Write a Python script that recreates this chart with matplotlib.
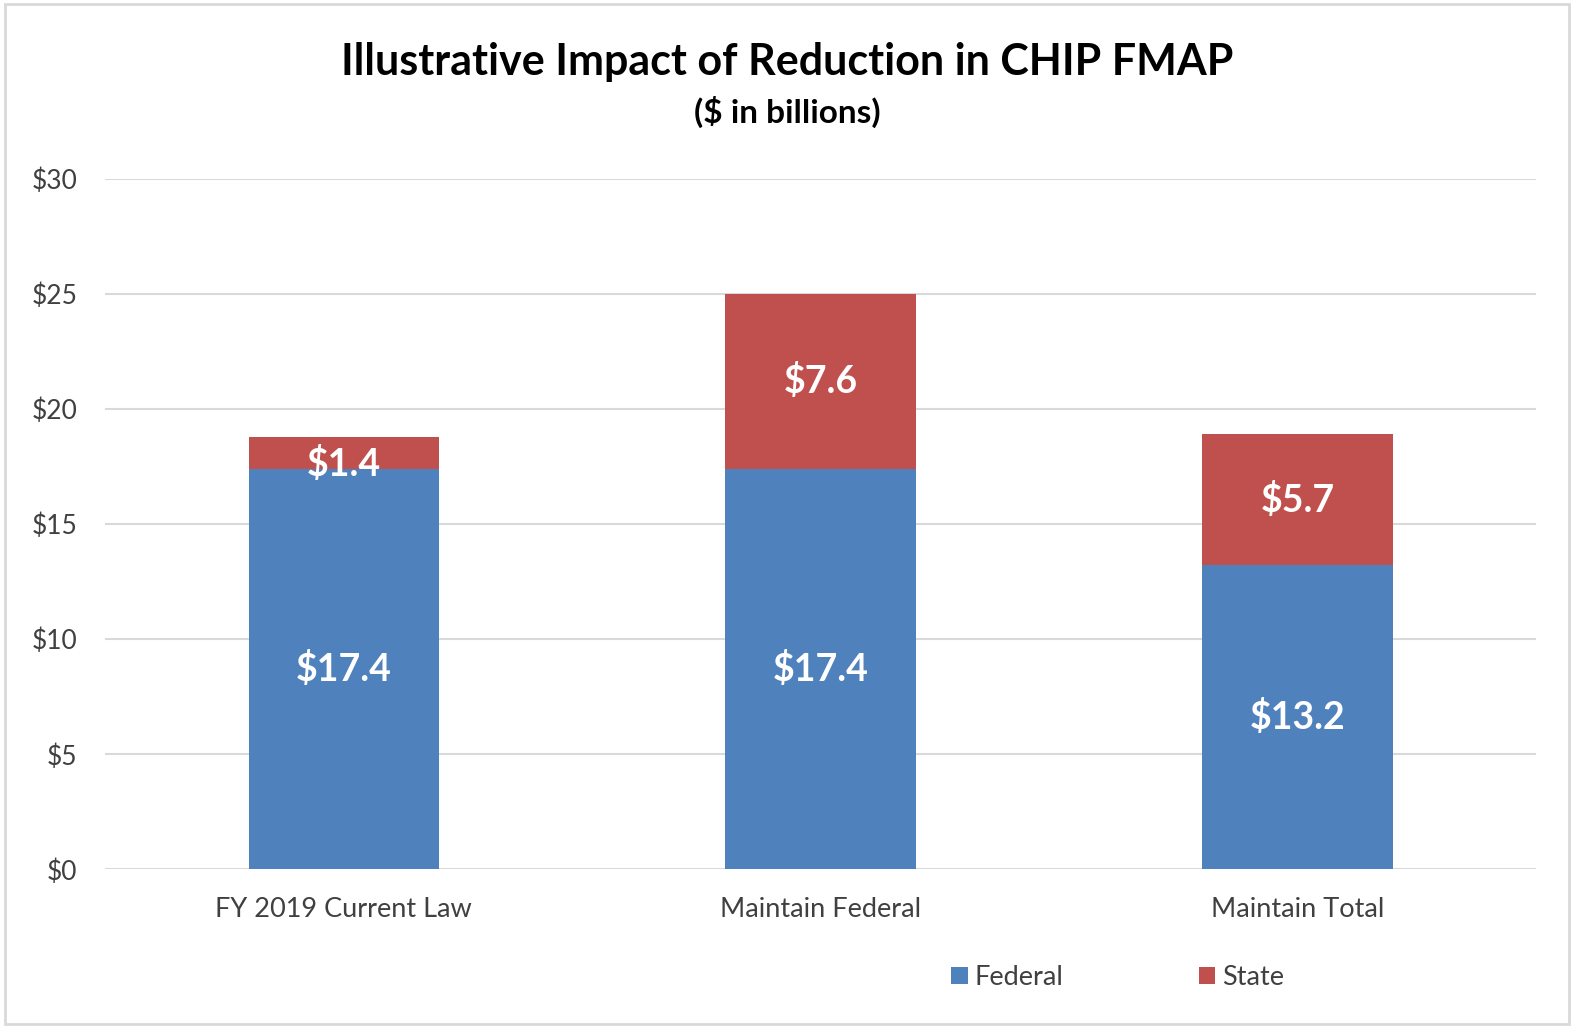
import matplotlib
matplotlib.use("Agg")
import matplotlib.pyplot as plt
from matplotlib.patches import Rectangle

categories = ["FY 2019 Current Law", "Maintain Federal", "Maintain Total"]
federal = [17.4, 17.4, 13.2]
state = [1.4, 7.6, 5.7]
yticks = [0, 5, 10, 15, 20, 25, 30]

plt.rcParams['font.family'] = ['Lato', 'DejaVu Sans']

fig = plt.figure(figsize=(15.74, 10.28), dpi=100)
ax = fig.add_axes([0.067, 0.1543, 0.9088, 0.6719])

blue = "#4F81BD"
red = "#C0504D"
x = range(len(categories))
b1 = ax.bar(x, federal, width=0.4, color=blue, label="Federal", zorder=3)
b2 = ax.bar(x, state, width=0.4, bottom=federal, color=red, label="State", zorder=3)

for i in x:
    ax.text(i, federal[i] / 2, f"${federal[i]:.1f}", ha="center", va="center",
            color="white", fontsize=27, fontweight="bold", zorder=4)
    off = -0.5 if state[i] < 2 else 0
    ax.text(i, federal[i] + state[i] / 2 + off, f"${state[i]:.1f}", ha="center", va="center",
            color="white", fontsize=27, fontweight="bold", zorder=4)

ax.set_xlim(-0.5, 2.5)
ax.set_ylim(0, 30)
ax.set_yticks(yticks)
ax.set_yticklabels([f"${v}" for v in yticks], fontsize=19, color="#404040")
ax.set_xticks(list(x))
ax.set_xticklabels(categories, fontsize=19.5, color="#404040")
ax.tick_params(axis="x", length=0, pad=20)
ax.tick_params(axis="y", length=0, pad=20)
ax.grid(axis="y", color="#D9D9D9", linewidth=1.5, zorder=0)
for s in ax.spines.values():
    s.set_visible(False)

fig.text(0.5, 0.94, "Illustrative Impact of Reduction in CHIP FMAP", ha="center", va="center",
         fontsize=31, fontweight="bold", color="black")
fig.text(0.5, 0.891, "($ in billions)", ha="center", va="center",
         fontsize=24, fontweight="bold", color="black")

leg = fig.legend(handles=[b1, b2], labels=["Federal", "State"], loc="center",
                 bbox_to_anchor=(0.71, 0.049), ncol=2, frameon=False, fontsize=19.5,
                 handlelength=0.6, handleheight=0.6, handletextpad=0.25, columnspacing=5.0)
for t in leg.get_texts():
    t.set_color("#404040")

fig.patches.append(Rectangle((0.003, 0.004), 0.994, 0.992, transform=fig.transFigure,
                             fill=False, edgecolor="#D9D9D9", linewidth=2))

fig.savefig("out.png", dpi=100, facecolor="white")
